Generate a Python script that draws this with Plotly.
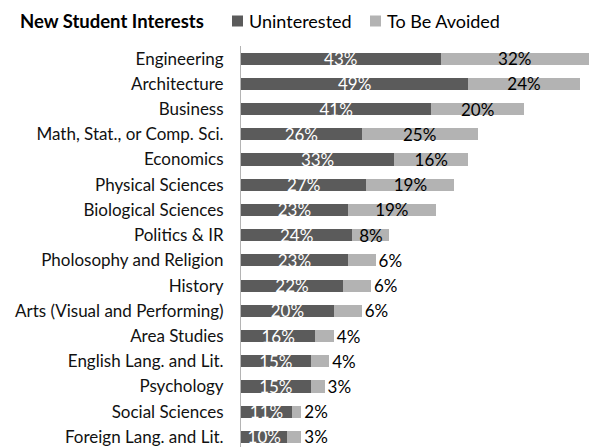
import plotly.graph_objects as go

categories = ["Engineering", "Architecture", "Business", "Math, Stat., or Comp. Sci.",
              "Economics", "Physical Sciences", "Biological Sciences", "Politics & IR",
              "Pholosophy and Religion", "History", "Arts (Visual and Performing)",
              "Area Studies", "English Lang. and Lit.", "Psychology", "Social Sciences",
              "Foreign Lang. and Lit."]
uninterested = [43, 49, 41, 26, 33, 27, 23, 24, 23, 22, 20, 16, 15, 15, 11, 10]
avoided = [32, 24, 20, 25, 16, 19, 19, 8, 6, 6, 6, 4, 4, 3, 2, 3]
series_names = ["Uninterested", "To Be Avoided"]

FONT = "Lato"
DARK = "#5b5b5b"
LIGHT = "#b3b3b3"

W, H = 589, 447
L, T = 241, 46
PW, PH = W - L, H - T


def px_x(p):
    return (p - L) / PW


def px_y(p):
    return (H - p) / PH


fig = go.Figure()
fig.add_trace(go.Bar(
    y=categories, x=uninterested, orientation="h", name=series_names[0],
    marker=dict(color=DARK, line=dict(width=0)),
    text=[f"{v}%" for v in uninterested], textposition="inside",
    insidetextanchor="middle", constraintext="none",
    textfont=dict(color="white", size=17, family=FONT),
    hoverinfo="skip",
))
fig.add_trace(go.Bar(
    y=categories, x=avoided, orientation="h", name=series_names[1],
    marker=dict(color=LIGHT, line=dict(width=0)),
    text=[f"{v}%" for v in avoided],
    textposition=["inside" if v >= 8 else "outside" for v in avoided],
    insidetextanchor="middle", constraintext="none",
    textfont=dict(color="black", size=17, family=FONT),
    insidetextfont=dict(color="black", size=17, family=FONT),
    outsidetextfont=dict(color="black", size=17, family=FONT),
    cliponaxis=False,
    hoverinfo="skip",
))

fig.update_layout(
    width=W, height=H,
    barmode="stack", bargap=0.52,
    margin=dict(l=L, r=0, t=T, b=0),
    plot_bgcolor="white", paper_bgcolor="white",
    font=dict(family=FONT, color="black"),
    showlegend=False,
)

# title
fig.add_annotation(text="<b>New Student Interests</b>", xref="paper", yref="paper",
                   x=px_x(18), y=px_y(21), xanchor="left", yanchor="middle",
                   showarrow=False, font=dict(size=18.5, family=FONT, color="black"))

# legend (squares + labels)
for name, col, sq_x, tx_x in [(series_names[0], DARK, 232, 247),
                              (series_names[1], LIGHT, 370, 385)]:
    fig.add_shape(type="rect", xref="paper", yref="paper",
                  x0=px_x(sq_x), x1=px_x(sq_x + 11), y0=px_y(26.5), y1=px_y(15.5),
                  fillcolor=col, line=dict(width=0))
    fig.add_annotation(text=name, xref="paper", yref="paper",
                       x=px_x(tx_x), y=px_y(21), xanchor="left", yanchor="middle",
                       showarrow=False, font=dict(size=18, family=FONT, color="black"))

fig.update_xaxes(range=[0, 75], showgrid=False, zeroline=False, showticklabels=False,
                 showline=False)
fig.update_yaxes(range=[15.4, -0.5], showgrid=False, zeroline=False,
                 showline=True, linecolor="#b4b4b4", linewidth=1,
                 ticks="", ticklabelstandoff=13,
                 tickfont=dict(size=17, family=FONT, color="#111111"))

fig.write_html("out.html")
